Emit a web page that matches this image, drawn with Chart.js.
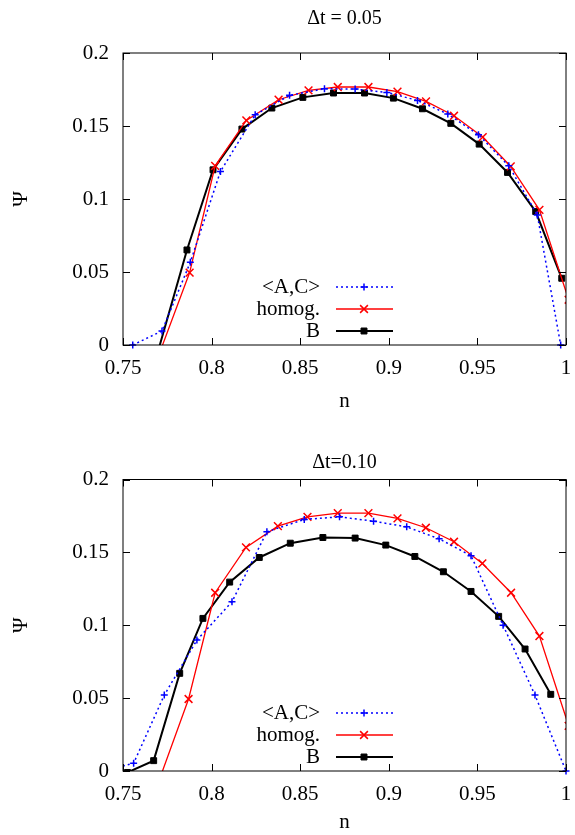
<!DOCTYPE html>
<html>
<head>
<meta charset="utf-8">
<script src="https://cdn.jsdelivr.net/npm/chart.js@4.4.0/dist/chart.umd.min.js"></script>
<style>
  body { margin: 0; background: #fff; }
  canvas { position: absolute; left: 0; }
</style>
</head>
<body>
<canvas id="top" width="575" height="418" style="top:0"></canvas>
<canvas id="bottom" width="575" height="425" style="top:410px"></canvas>
<script>
// axis ticks
const xTicks = [0.75, 0.8, 0.85, 0.9, 0.95, 1];
const yTicks = [0, 0.05, 0.1, 0.15, 0.2];
const seriesNames = ['<A,C>', 'homog.', 'B'];

// Δt = 0.05
const acN05 = [0.7555, 0.772, 0.788, 0.805, 0.8246, 0.844, 0.8637, 0.881, 0.8989, 0.9162, 0.9333, 0.9506, 0.9677, 0.9838, 0.997];
const acPsi05 = [0, 0.0096, 0.0567, 0.1189, 0.1577, 0.171, 0.1755, 0.1753, 0.173, 0.1675, 0.1582, 0.144, 0.1227, 0.0891, 0];
const homN05 = [0.7711, 0.7876, 0.802, 0.8196, 0.8378, 0.8547, 0.8712, 0.8885, 0.9049, 0.921, 0.9368, 0.953, 0.9688, 0.985, 1.0015];
const homPsi05 = [-0.004, 0.0496, 0.1227, 0.1538, 0.168, 0.1744, 0.1767, 0.1767, 0.1735, 0.1669, 0.157, 0.1424, 0.1223, 0.0926, 0.031];
const bN05 = [0.7696, 0.7861, 0.8008, 0.8171, 0.834, 0.8515, 0.8688, 0.8863, 0.9026, 0.919, 0.935, 0.951, 0.967, 0.9829, 0.9976];
const bPsi05 = [-0.005, 0.0651, 0.12, 0.1479, 0.1623, 0.1696, 0.1726, 0.1726, 0.1691, 0.1618, 0.1518, 0.1376, 0.1182, 0.0914, 0.0457];

// Δt = 0.10
const acN10 = [0.739, 0.756, 0.7733, 0.7917, 0.8115, 0.8312, 0.8523, 0.8722, 0.8914, 0.9101, 0.9284, 0.9464, 0.9645, 0.9825, 1.0];
const acPsi10 = [0, 0.0053, 0.0521, 0.0898, 0.1161, 0.1641, 0.1726, 0.1744, 0.1714, 0.1675, 0.1593, 0.1477, 0.1, 0.0521, 0];
const homN10 = [0.7711, 0.787, 0.802, 0.8194, 0.8374, 0.8541, 0.8712, 0.8885, 0.9049, 0.9209, 0.9368, 0.9528, 0.969, 0.985, 1.0015];
const homPsi10 = [-0.004, 0.0494, 0.1223, 0.1534, 0.168, 0.1744, 0.1769, 0.1769, 0.1733, 0.1669, 0.1573, 0.1424, 0.1223, 0.0926, 0.031];
const bN10 = [0.7525, 0.7673, 0.782, 0.7951, 0.8102, 0.8269, 0.8444, 0.8628, 0.881, 0.8983, 0.9147, 0.9308, 0.9464, 0.962, 0.9769, 0.9914];
const bPsi10 = [-0.001, 0.0071, 0.067, 0.1047, 0.1296, 0.1465, 0.1563, 0.1602, 0.1598, 0.155, 0.1472, 0.1367, 0.1232, 0.1061, 0.0837, 0.0526];

Chart.defaults.font.family = "'Liberation Serif', 'DejaVu Serif', serif";
Chart.defaults.font.size = 21;
Chart.defaults.color = '#000';

const pts = (xs, ys) => xs.map((x, i) => ({x: x, y: ys[i]}));

// box, inward ticks on all sides, and gnuplot-like key
const framePlugin = {
  id: 'frame',
  afterDraw(chart) {
    const ctx = chart.ctx;
    const a = chart.chartArea;
    const xs = chart.scales.x, ys = chart.scales.y;
    ctx.save();
    ctx.strokeStyle = '#000';
    ctx.lineWidth = 1;
    ctx.strokeRect(a.left, a.top, a.right - a.left, a.bottom - a.top);
    ctx.beginPath();
    xTicks.forEach(v => {
      const px = Math.round(xs.getPixelForValue(v)) + 0.5;
      ctx.moveTo(px, a.bottom); ctx.lineTo(px, a.bottom - 7);
      ctx.moveTo(px, a.top); ctx.lineTo(px, a.top + 7);
    });
    yTicks.forEach(v => {
      const py = Math.round(ys.getPixelForValue(v)) + 0.5;
      ctx.moveTo(a.left, py); ctx.lineTo(a.left + 7, py);
      ctx.moveTo(a.right, py); ctx.lineTo(a.right - 7, py);
    });
    ctx.stroke();

    // key
    ctx.font = "21px 'Liberation Serif'";
    ctx.textAlign = 'right';
    ctx.textBaseline = 'middle';
    chart.data.datasets.forEach((ds, i) => {
      const y = a.bottom - 58 + 22 * i;
      ctx.fillStyle = '#000';
      ctx.fillText(ds.label, a.left + 197, y);
      ctx.strokeStyle = ds.borderColor;
      ctx.lineWidth = ds.borderWidth;
      ctx.setLineDash(ds.borderDash || []);
      ctx.beginPath();
      ctx.moveTo(a.left + 213, y);
      ctx.lineTo(a.left + 270, y);
      ctx.stroke();
      ctx.setLineDash([]);
      ctx.fillStyle = ds.pointBackgroundColor;
      ctx.strokeStyle = ds.pointBorderColor;
      ctx.lineWidth = ds.pointBorderWidth;
      Chart.helpers.drawPoint(ctx, {pointStyle: ds.pointStyle, radius: ds.pointRadius, borderWidth: ds.pointBorderWidth, rotation: 0}, a.left + 241, y);
    });
    ctx.restore();
  }
};

function makeChart(id, title, titlePad, xHeight, xTitlePad, ac, hom, b, acClip) {
  return new Chart(document.getElementById(id), {
    type: 'line',
    data: {
      datasets: [{
        label: seriesNames[0],
        data: pts(ac[0], ac[1]),
        borderColor: '#0000ff',
        borderWidth: 1.5,
        borderDash: [2, 3],
        pointStyle: 'cross',
        pointRadius: 3.5,
        pointBorderWidth: 1.5,
        pointBorderColor: '#0000ff',
        pointBackgroundColor: '#0000ff',
        clip: acClip
      }, {
        label: seriesNames[1],
        data: pts(hom[0], hom[1]),
        borderColor: '#ff0000',
        borderWidth: 1.3,
        pointStyle: 'crossRot',
        pointRadius: 5.5,
        pointBorderWidth: 1.5,
        pointBorderColor: '#ff0000',
        pointBackgroundColor: '#ff0000',
        clip: {left: 0, top: 5, right: 0, bottom: 0}
      }, {
        label: seriesNames[2],
        data: pts(b[0], b[1]),
        borderColor: '#000000',
        borderWidth: 2,
        pointStyle: 'rect',
        pointRadius: 4.2,
        pointBorderWidth: 1,
        pointBorderColor: '#000000',
        pointBackgroundColor: '#000000',
        clip: {left: 0, top: 5, right: 5, bottom: 0}
      }]
    },
    options: {
      responsive: false,
      animation: false,
      layout: {autoPadding: false, padding: 0},
      plugins: {
        legend: {display: false},
        tooltip: {enabled: false},
        title: {
          display: true,
          text: title,
          fullSize: false,
          font: {size: 20, weight: 'normal'},
          padding: titlePad
        }
      },
      scales: {
        x: {
          type: 'linear',
          min: 0.75,
          max: 1,
          grid: {display: false, drawTicks: false},
          border: {display: false},
          afterBuildTicks: s => { s.ticks = xTicks.map(v => ({value: v})); },
          afterFit: s => { s.height = xHeight; s.paddingLeft = 0; s.paddingRight = 9; },
          ticks: {padding: 11, callback: v => String(+v.toFixed(2))},
          title: {display: true, text: 'n', font: {size: 21, lineHeight: 1}, padding: {top: 0, bottom: xTitlePad}}
        },
        y: {
          min: 0,
          max: 0.2,
          grid: {display: false, drawTicks: false},
          border: {display: false},
          afterBuildTicks: s => { s.ticks = yTicks.map(v => ({value: v})); },
          afterFit: s => { s.width = 123; },
          ticks: {padding: 14, callback: v => String(+v.toFixed(2))},
          title: {display: true, text: 'Ψ', font: {size: 21, lineHeight: 1}, padding: {top: 11, bottom: 0}}
        }
      }
    },
    plugins: [framePlugin]
  });
}

makeChart('top', 'Δt = 0.05', {top: 7, bottom: 22}, 73, 6,
  [acN05, acPsi05], [homN05, homPsi05], [bN05, bPsi05],
  {left: 5, top: 5, right: 5, bottom: 5});
makeChart('bottom', 'Δt=0.10', {top: 40.5, bottom: 5}, 64, 2,
  [acN10, acPsi10], [homN10, homPsi10], [bN10, bPsi10],
  {left: 0, top: 5, right: 5, bottom: 5});
</script>
</body>
</html>
